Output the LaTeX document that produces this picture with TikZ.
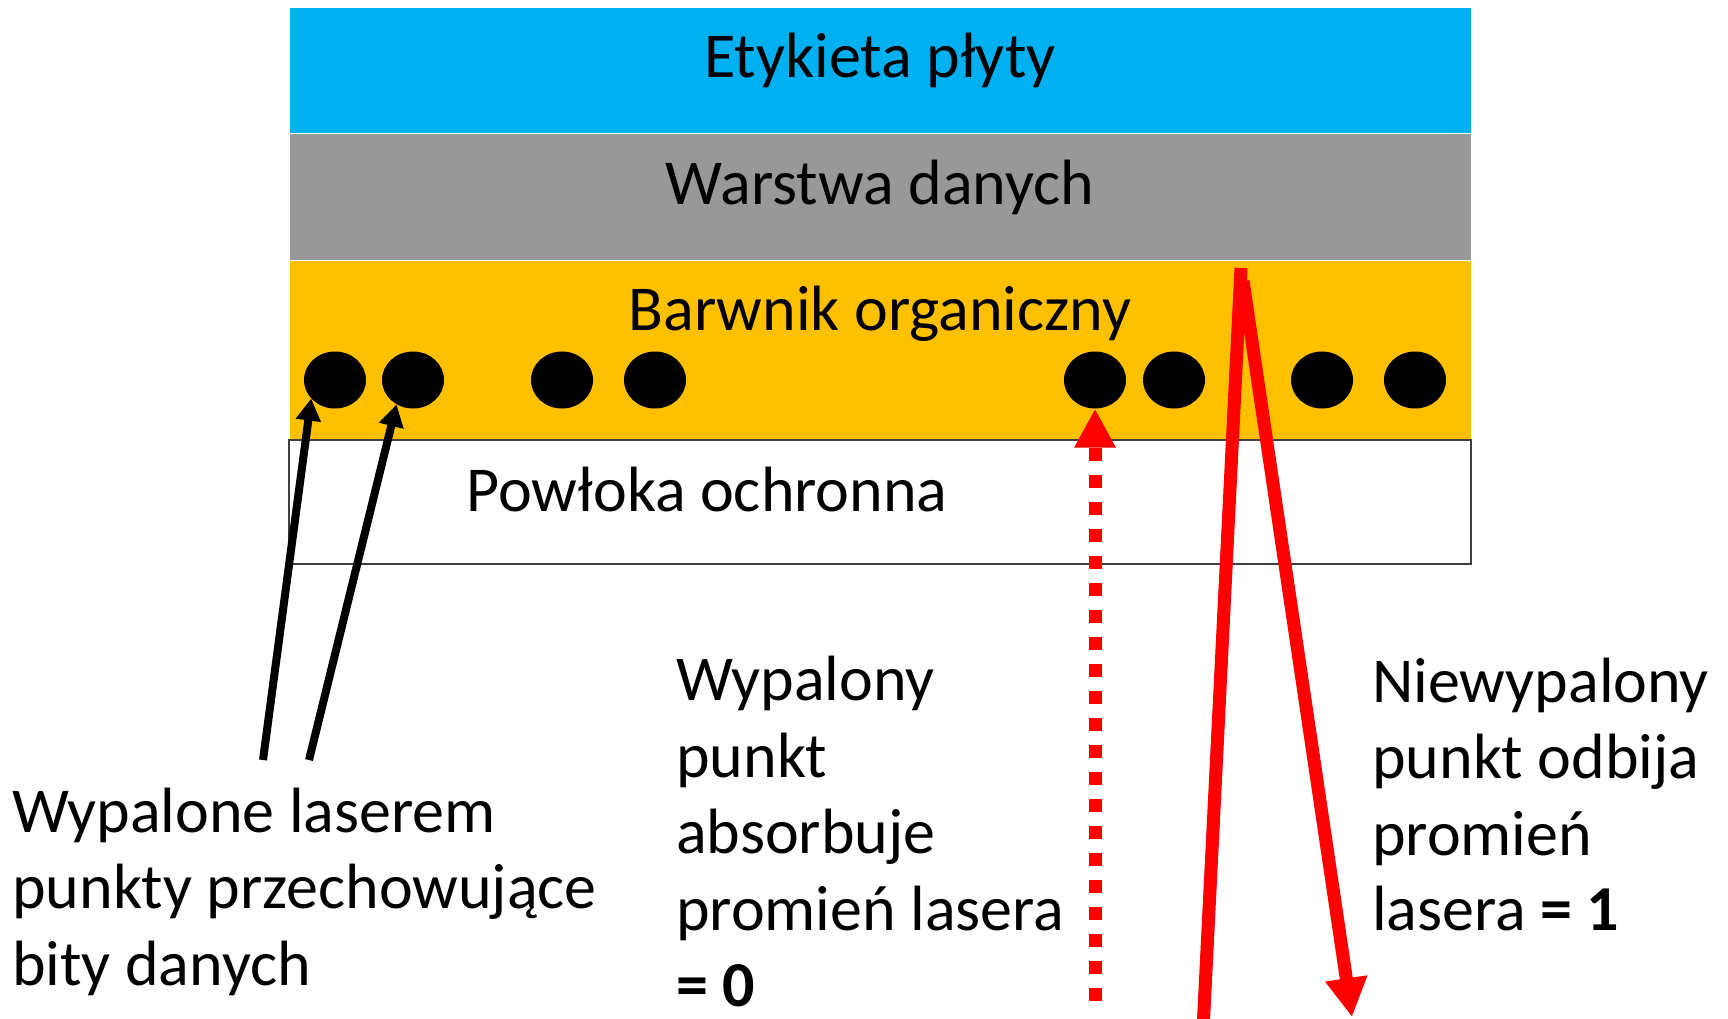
\documentclass[tikz,border=0pt]{standalone}
\usepackage{fontspec}
\setmainfont{Carlito}
\usetikzlibrary{arrows.meta,shapes.geometric}
\definecolor{labelblue}{HTML}{00B0F0}
\definecolor{datagray}{HTML}{989898}
\definecolor{dyeyellow}{HTML}{FFC000}
\definecolor{laserred}{HTML}{FF0000}
\definecolor{edgegray}{HTML}{404040}
\tikzset{
  layer/.style={rectangle, anchor=north west, inner sep=0pt, outer sep=0pt,
    minimum width=1182pt, draw=white, line width=1pt},
  pit/.style={ellipse, fill=black, inner sep=0pt, minimum width=62pt, minimum height=57pt},
  txt/.style={anchor=base west, inner sep=0pt, font=\fontsize{64}{77}\selectfont},
  ctxt/.style={anchor=base, inner sep=0pt, font=\fontsize{64}{77}\selectfont},
  pointer/.style={draw=black, line width=8pt, -{Triangle[width=24pt,length=22pt]}},
  beam/.style={draw=laserred, line width=13pt},
  beamtip/.style={-{Triangle[width=40pt,length=39pt]}},
  absorbed/.style={draw=laserred, line width=13pt, dash pattern=on 13pt off 14pt,
    -{Triangle[width=39pt,length=39pt]}}
}
\begin{document}
\begin{tikzpicture}[x=1pt,y=-1pt]
\useasboundingbox (0,0) rectangle (1728,1018);
% layers
\node[layer, fill=labelblue, minimum height=126pt] (etykieta) at (289,7) {};
\node[layer, fill=datagray, minimum height=127pt] (warstwa) at (289,133) {};
\node[layer, fill=dyeyellow, minimum height=180pt] (barwnik) at (289,260) {};
\node[layer, fill=white, draw=edgegray, line width=2pt, minimum height=124pt] (powloka) at (289,440) {};
% layer labels
\node[ctxt] (tEty) at (880,77) {Etykieta płyty};
\node[ctxt] (tWar) at (880,204) {Warstwa danych};
\node[ctxt] (tBar) at (880,330) {Barwnik organiczny};
\node[ctxt] (tPow) at (707,511) {Powłoka ochronna};
% pits
\node[pit] (d1) at (335,380) {};
\node[pit] (d2) at (413,380) {};
\node[pit] (d3) at (562,380) {};
\node[pit] (d4) at (655,380) {};
\node[pit] (d5) at (1095,380) {};
\node[pit] (d6) at (1174,380) {};
\node[pit] (d7) at (1322,380) {};
\node[pit] (d8) at (1415,380) {};
% black pointers
\coordinate (p1) at (263,760);
\coordinate (p2) at (309,760);
\draw[pointer] (p1) -- (d1.-142);
\draw[pointer] (p2) -- (d2.-124);
% absorbed beam (dotted)
\coordinate (absStart) at (1095,1001);
\draw[absorbed] (absStart) -- (d5.south);
% reflected beam
\coordinate (inStart) at (1203,1030);
\coordinate (hit) at (1241,268);
\coordinate (reflStart) at (1243,281);
\coordinate (reflEnd) at (1352,1017);
\draw[beam] (inStart) -- (hit);
\draw[beam, beamtip] (reflStart) -- (reflEnd);
% left text
\node[txt] (l1) at (12,832) {Wypalone laserem};
\node[txt] (l2) at (12,908) {punkty przechowujące};
\node[txt] (l3) at (12,985) {bity danych};
% middle text
\node[txt] (m1) at (676,700) {Wypalony};
\node[txt] (m2) at (676,777) {punkt};
\node[txt] (m3) at (676,853) {absorbuje};
\node[txt] (m4) at (676,930) {promień lasera};
\node[txt] (m5) at (676,1006) {\textbf{= 0}};
% right text
\node[txt] (r1) at (1372,702) {Niewypalony};
\node[txt] (r2) at (1372,778) {punkt odbija};
\node[txt] (r3) at (1372,855) {promień};
\node[txt] (r4) at (1372,930) {lasera \textbf{= 1}};
\end{tikzpicture}
\end{document}
